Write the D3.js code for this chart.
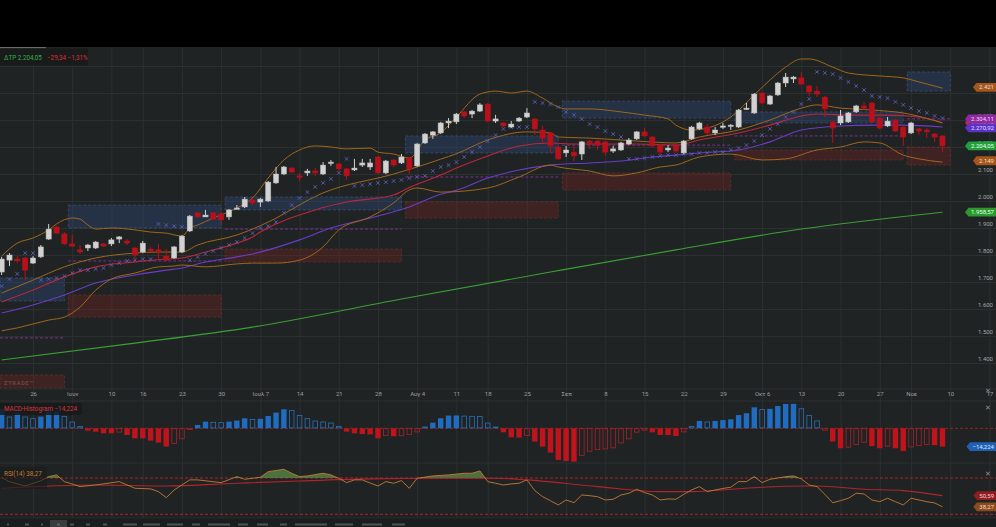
<!DOCTYPE html>
<html><head><meta charset="utf-8">
<script src="https://cdn.jsdelivr.net/npm/d3@7"></script>
<style>html,body{margin:0;padding:0;background:#000;overflow:hidden}svg{display:block;font-family:Roboto,"DejaVu Sans",sans-serif}</style>
</head><body><svg id="c" width="996" height="527"></svg>
<script>
// ---------- DATA ----------
const opens=[1737,1781,1785,1789,1770,1793,1859,1904,1878,1841,1819,1826,1826,1841,1841,1859,1852,1826,1811,1822,1819,1796,1789,1811,1889,1956,1941,1956,1952,1941,1970,1978,2004,1996,2000,2067,2100,2122,2093,2104,2111,2100,2141,2137,2119,2115,2133,2126,2163,2104,2152,2141,2159,2130,2215,2244,2252,2289,2293,2330,2322,2333,2359,2296,2289,2274,2296,2311,2304,2263,2252,2200,2178,2181,2174,2222,2222,2219,2185,2189,2211,2230,2256,2237,2207,2189,2204,2178,2230,2267,2274,2252,2274,2278,2274,2341,2326,2400,2359,2393,2437,2452,2456,2426,2407,2385,2293,2289,2293,2330,2352,2363,2307,2278,2300,2274,2252,2267,2263,2248,2241];
const highs=[1793,1807,1796,1793,1796,1837,1915,1907,1885,1874,1837,1841,1852,1844,1863,1870,1859,1830,1852,1830,1841,1822,1833,1874,1948,1959,1967,1959,1956,1970,1985,2015,2011,2011,2074,2126,2130,2126,2104,2119,2122,2144,2152,2141,2122,2156,2156,2156,2167,2152,2156,2174,2163,2215,2252,2259,2293,2307,2326,2333,2337,2363,2363,2319,2293,2296,2311,2344,2307,2278,2256,2204,2204,2204,2222,2226,2226,2222,2204,2219,2233,2259,2270,2241,2211,2207,2211,2226,2278,2293,2285,2274,2289,2285,2341,2363,2400,2404,2393,2441,2474,2463,2478,2430,2426,2389,2296,2337,2330,2356,2367,2367,2311,2311,2304,2278,2293,2270,2270,2252,2244];
const lows=[1726,1759,1770,1707,1767,1789,1856,1878,1837,1830,1804,1815,1822,1830,1833,1844,1837,1781,1807,1811,1781,1778,1785,1807,1885,1937,1941,1930,1922,1930,1970,1974,1985,1978,1996,2063,2096,2104,2074,2093,2093,2096,2130,2111,2078,2111,2126,2115,2100,2100,2126,2137,2100,2126,2211,2230,2248,2270,2285,2307,2307,2330,2293,2289,2274,2270,2293,2307,2244,2215,2178,2152,2163,2148,2152,2193,2189,2167,2178,2185,2207,2226,2237,2200,2167,2181,2178,2174,2226,2263,2244,2244,2267,2263,2270,2337,2322,2359,2356,2389,2422,2437,2430,2389,2385,2311,2215,2281,2289,2326,2337,2289,2267,2274,2256,2204,2248,2244,2233,2219,2181];
const closes=[1785,1800,1778,1744,1789,1830,1896,1881,1841,1833,1811,1837,1848,1833,1856,1867,1844,1800,1844,1815,1811,1781,1830,1870,1944,1941,1948,1933,1930,1967,1974,2007,1993,2007,2070,2100,2126,2107,2089,2111,2104,2133,2144,2119,2093,2122,2141,2141,2104,2148,2133,2163,2119,2211,2248,2256,2289,2296,2322,2315,2333,2356,2296,2304,2278,2285,2307,2326,2267,2233,2204,2156,2189,2167,2219,2215,2207,2181,2193,2215,2226,2256,2241,2204,2181,2196,2185,2222,2274,2289,2252,2263,2278,2281,2337,2344,2396,2363,2389,2437,2459,2459,2433,2404,2396,2341,2270,2315,2326,2352,2344,2293,2270,2296,2259,2237,2289,2259,2256,2237,2204.05];
const sar=[1685,1711,1730,1807,1807,1707,1711,1715,1722,1733,1744,1744,1748,1752,1763,1770,1778,1781,1785,1785,1915,1911,1907,1904,1781,1793,1804,1815,1826,1837,1848,1863,1881,1900,1907,1922,1956,1985,2011,2033,2052,2067,2082,2104,2156,2056,2059,2063,2067,2070,2074,2078,2085,2089,2093,2111,2126,2133,2144,2163,2181,2200,2222,2244,2267,2274,2274,2274,2367,2363,2359,2348,2330,2319,2304,2285,2274,2259,2248,2237,2156,2156,2159,2163,2167,2170,2170,2174,2174,2178,2178,2181,2181,2189,2196,2207,2222,2244,2267,2285,2311,2330,2359,2378,2478,2474,2470,2456,2441,2426,2411,2389,2385,2381,2367,2356,2344,2333,2326,2315,2307];
const bbUpper=[[0,1796],[2,1844],[4,1863],[6,1893],[7,1915],[9,1937],[10,1933],[11,1911],[12,1896],[14,1900],[17,1893],[19,1885],[21,1881],[23,1870],[24,1900],[25,1911],[27,1937],[30,1974],[32,2011],[34,2085],[36,2152],[38,2189],[40,2204],[42,2200],[44,2193],[47,2196],[48,2181],[50,2174],[52,2159],[54,2226],[56,2252],[58,2311],[61,2396],[63,2407],[65,2400],[67,2407],[69,2381],[71,2348],[72,2341],[75,2341],[79,2330],[82,2318],[85,2304],[86,2281],[88,2263],[90,2270],[93,2311],[96,2393],[98,2448],[100,2496],[102,2526],[103,2526],[106,2496],[108,2474],[112,2463],[115,2456],[117,2441],[120,2418]];
const bbMiddle=[[0,1659],[4,1707],[8,1756],[12,1789],[17,1807],[20,1811],[23,1811],[25,1837],[30,1874],[32,1896],[34,1922],[41,2030],[50,2100],[53,2126],[56,2155],[58,2175],[62,2226],[67,2256],[70,2252],[71,2237],[75,2233],[81,2222],[86,2215],[89,2237],[94,2263],[98,2300],[102,2344],[104,2356],[107,2344],[111,2337],[115,2326],[120,2289]];
const bbLower=[[0,1519],[2,1530],[6,1559],[8,1570],[10,1607],[12,1670],[14,1711],[17,1733],[20,1756],[22,1759],[23,1763],[26,1756],[30,1767],[32,1770],[35,1770],[38,1781],[41,1830],[43,1893],[47,1941],[50,1993],[52,2041],[53,2048],[56,2033],[62,2048],[66,2089],[70,2133],[71,2126],[75,2111],[78,2093],[81,2104],[84,2126],[86,2133],[89,2163],[93,2174],[97,2152],[100,2156],[104,2189],[107,2200],[110,2219],[112,2215],[115,2170],[117,2156],[120,2144]];
const emaRed=[[0,1626],[4,1670],[8,1719],[12,1756],[17,1774],[21,1785],[23,1789],[26,1811],[30,1844],[32,1867],[33,1885],[40,1967],[44,1996],[50,2022],[52,2050],[56,2096],[58,2122],[62,2167],[66,2204],[70,2215],[73,2211],[77,2211],[81,2211],[86,2207],[89,2226],[94,2252],[98,2281],[102,2315],[104,2322],[109,2318],[113,2318],[117,2311],[120,2290]];
const maPurple=[[0,1585],[4,1615],[8,1652],[12,1696],[17,1726],[21,1744],[23,1752],[26,1774],[30,1793],[32,1804],[38,1856],[42,1900],[47,1937],[52,1978],[56,2025],[58,2040],[62,2085],[66,2115],[70,2133],[75,2141],[79,2148],[83,2163],[86,2170],[89,2178],[94,2189],[98,2219],[102,2263],[107,2278],[111,2281],[115,2281],[120,2274]];
const ma200=[[0,1411],[16,1470],[32,1533],[51,1637],[70,1737],[86,1819],[102,1896],[120,1958.57]];
const zoneSpans=[[0,8],[9,28],[29,51],[52,71],[72,93],[94,115],[116,121]];
const blueZones=[[1715,1630],[1985,1900],[2015,1967],[2241,2178],[2370,2307],[2330,2289],[2478,2407]];
const redZones=[[1356,1307],[1652,1570],[1822,1774],[1996,1937],[2104,2041],[2189,2152],[2200,2133]];
const pivots=[1493,1778,1896,2089,2207,2241,2304.11];
const macdHist=[14.8,9.1,11.7,9.1,7.8,9.1,13.0,13.0,9.6,5.2,1.8,-1.8,-2.6,-3.9,-3.9,-3.3,-5.2,-7.8,-7.8,-9.6,-11.1,-14.2,-12.2,-8.5,-1.3,2.6,5.2,5.0,4.7,5.2,6.0,7.8,7.2,7.4,9.6,12.2,14.8,14.2,10.3,7.8,6.0,5.2,4.4,1.8,-2.6,-3.9,-4.4,-4.7,-7.8,-6.0,-6.2,-6.1,-5.2,-3.1,1.3,4.4,7.8,9.9,10.0,9.8,9.6,9.5,4.4,1.3,-3.1,-7.0,-7.2,-6.0,-10.3,-14.2,-18.9,-24.6,-25.4,-25.9,-21.5,-18.1,-16.9,-16.3,-15.5,-11.7,-8.5,-3.3,-1.8,-3.1,-5.2,-5.3,-6.0,-3.1,1.8,5.7,5.2,5.7,6.4,7.0,10.3,11.7,16.3,15.0,15.1,17.3,18.9,19.0,15.5,10.3,6.0,-1.8,-10.3,-15.5,-15.0,-13.0,-11.1,-13.8,-15.5,-14.2,-15.5,-17.6,-14.8,-13.8,-13.0,-13.1,-14.224];
const rsi=[[0,70.4],[1,66.0],[3,61.2],[5,67.0],[6,71.5],[7,73.4],[8,66.0],[9,63.4],[10,60.5],[12,62.3],[15,66.0],[17,58.7],[19,58.0],[20,55.0],[21,48.3],[22,56.8],[24,67.9],[25,67.9],[28,64.9],[30,71.5],[31,68.6],[33,70.8],[34,77.0],[36,79.6],[37,75.2],[38,71.5],[39,72.3],[41,75.2],[42,73.4],[43,69.7],[44,64.9],[45,67.9],[46,67.9],[47,64.5],[48,61.2],[49,66.0],[50,64.2],[51,67.1],[52,58.7],[53,69.7],[55,72.3],[57,73.4],[59,75.2],[60,75.2],[61,77.8],[62,66.0],[63,64.2],[64,62.3],[65,63.5],[66,64.2],[67,67.9],[68,56.1],[69,49.4],[70,45.0],[71,40.3],[72,45.8],[73,42.8],[74,51.3],[75,50.5],[76,49.4],[77,45.8],[78,46.6],[79,51.3],[80,53.2],[81,57.6],[82,54.0],[83,51.3],[84,45.8],[85,46.9],[86,46.6],[87,52.0],[88,56.8],[89,60.5],[90,55.0],[91,56.8],[92,58.5],[93,59.8],[94,66.0],[95,66.0],[96,71.5],[97,64.9],[98,68.6],[99,70.0],[100,71.5],[101,72.3],[102,69.0],[103,62.3],[104,60.5],[105,52.0],[106,42.8],[107,45.0],[108,47.7],[109,53.2],[110,52.4],[111,45.8],[112,43.9],[113,47.7],[114,43.9],[115,40.3],[116,47.7],[117,45.8],[118,43.9],[119,42.5],[120,38.27]];
const rsiMA=[[0,58.7],[12,62.3],[21,61.2],[30,64.2],[38,66.7],[47,69.0],[55,69.7],[63,69.7],[67,67.9],[76,60.5],[84,55.0],[88,55.0],[93,57.6],[97,59.8],[102,61.2],[104,61.2],[110,57.6],[115,56.1],[120,50.59]];
const xTicks=[[4,"26"],[9,"Ιουν"],[14,"10"],[18,"16"],[23,"23"],[28,"30"],[33,"Ιουλ 7"],[38,"14"],[43,"21"],[48,"28"],[53,"Αυγ 4"],[58,"11"],[62,"18"],[67,"25"],[72,"Σεπ"],[77,"8"],[82,"15"],[87,"22"],[92,"29"],[97,"Οκτ 6"],[102,"13"],[107,"20"],[112,"27"],[116,"Νοε"],[121,"10"],[126,"17"]];
const priceTicks=[1400,1500,1600,1700,1800,1900,2000,2100,2200,2300];
const gridPrices=[1400,1500,1600,1700,1800,1900,2000,2100,2200,2300,2400,2500];
const headerName="ΔΤΡ", headerChange=-29.34, headerPct=-1.31;
const upperTag=2421, lowerTag=2149;

// ---------- SETUP ----------
const W=996,H=527;
const loc=d3.formatLocale({decimal:",",thousands:".",grouping:[3],currency:["","€"]});
const f0=loc.format(",.0f"), f2=loc.format(",.2f"), f3=loc.format(",.3f");
const svg=d3.select("#c");
const x=d3.scaleLinear().domain([4,126]).range([33,989.5]);
const y=d3.scaleLinear().domain([1400,2500]).range([363,66]);
const yM=d3.scaleLinear().domain([0,-14.224]).range([428.3,446.6]);
const yR=d3.scaleLinear().domain([30,70]).range([514.3,478]);
const GRID="#2c3030", BG="#202323";

svg.append("rect").attr("width",W).attr("height",H).attr("fill","#000");
svg.append("rect").attr("y",47).attr("width",W).attr("height",H-47).attr("fill",BG);
svg.append("rect").attr("x",0).attr("y",47).attr("width",46).attr("height",1.2).attr("fill","#6a6d6d");

const defs=svg.append("defs");
defs.append("clipPath").attr("id","mainClip").append("rect").attr("x",0).attr("y",48).attr("width",W).attr("height",341);
defs.append("clipPath").attr("id","rsiUp").append("rect").attr("x",0).attr("y",465).attr("width",W).attr("height",yR(70)-465);

// vertical gridlines
svg.append("g").attr("transform","translate(0,518)")
  .call(d3.axisBottom(x).tickValues(xTicks.map(d=>d[0])).tickSize(-(518-48)).tickFormat(""))
  .call(g=>g.select(".domain").remove())
  .call(g=>g.selectAll("line").attr("stroke",GRID).attr("stroke-width",1));

// horizontal price gridlines
const main=svg.append("g").attr("clip-path","url(#mainClip)");
main.append("g").attr("transform",`translate(${W},0)`)
  .call(d3.axisLeft(y).tickValues(gridPrices).tickSize(W).tickFormat(""))
  .call(g=>g.select(".domain").remove())
  .call(g=>g.selectAll("line").attr("stroke",GRID));

// panel separators
[389,401,463,518].forEach(v=>svg.append("line").attr("x1",0).attr("x2",W).attr("y1",v).attr("y2",v).attr("stroke",GRID));

// zones
const zx0=s=>Math.max(0,x(s[0]-0.5)), zx1=s=>x(s[1]);
main.selectAll(".bz").data(blueZones).join("rect")
  .attr("x",(d,i)=>zx0(zoneSpans[i])).attr("width",(d,i)=>zx1(zoneSpans[i])-zx0(zoneSpans[i]))
  .attr("y",d=>y(d[0])).attr("height",d=>y(d[1])-y(d[0]))
  .attr("fill","rgba(50,80,140,0.33)").attr("stroke","rgba(80,105,165,0.55)").attr("stroke-dasharray","3,2").attr("stroke-width",0.8);
main.selectAll(".rz").data(redZones).join("rect")
  .attr("x",(d,i)=>zx0(zoneSpans[i])).attr("width",(d,i)=>zx1(zoneSpans[i])-zx0(zoneSpans[i]))
  .attr("y",d=>y(d[0])).attr("height",d=>y(d[1])-y(d[0]))
  .attr("fill","rgba(115,38,38,0.38)").attr("stroke","rgba(140,55,55,0.55)").attr("stroke-dasharray","3,2").attr("stroke-width",0.8);
main.selectAll(".pv").data(pivots).join("line")
  .attr("x1",(d,i)=>zx0(zoneSpans[i])).attr("x2",(d,i)=>zx1(zoneSpans[i]))
  .attr("y1",d=>y(d)).attr("y2",d=>y(d))
  .attr("stroke","#7a3090").attr("stroke-dasharray","3,2").attr("stroke-width",1);
main.append("text").attr("x",4).attr("y",385).attr("font-size",5.5).attr("font-weight","bold").attr("letter-spacing",0.8).attr("fill","#6e4646").text("ZTRADE™");

// lines
const ln=d3.line().x(d=>x(d[0])).y(d=>y(d[1])).curve(d3.curveMonotoneX);
const addLine=(data,col,w)=>main.append("path").datum(data).attr("d",ln).attr("fill","none").attr("stroke",col).attr("stroke-width",w);
addLine(ma200,"#3aa033",1.1);
addLine(maPurple,"#6a3cc8",1.1);
addLine(emaRed,"#b8283c",1.1);
addLine(bbLower,"#a0661e",1);
addLine(bbMiddle,"#a0661e",1);
addLine(bbUpper,"#a0661e",1);

// SAR
main.append("path").attr("d",sar.map((v,i)=>{const cx=x(i),cy=y(v);return `M${cx-1.8},${cy-1.8}L${cx+1.8},${cy+1.8}M${cx+1.8},${cy-1.8}L${cx-1.8},${cy+1.8}`;}).join(""))
  .attr("stroke","#5a5cb8").attr("stroke-width",0.9).attr("fill","none");

// candles
const idx=d3.range(closes.length);
const cg=main.selectAll(".cd").data(idx).join("g");
const ccol=i=>closes[i]>=opens[i]?"#d2d2d2":"#b8111b";
cg.append("line").attr("x1",i=>x(i)).attr("x2",i=>x(i)).attr("y1",i=>y(highs[i])).attr("y2",i=>y(lows[i])).attr("stroke",ccol).attr("stroke-width",1);
cg.append("rect").attr("x",i=>x(i)-2.6).attr("width",5.2)
  .attr("y",i=>y(Math.max(opens[i],closes[i])))
  .attr("height",i=>Math.max(1.4,Math.abs(y(opens[i])-y(closes[i]))))
  .attr("fill",ccol).attr("stroke",i=>closes[i]>=opens[i]?"#b8b8b8":"#b8111b").attr("stroke-width",0.5);

// price axis labels
svg.append("g").attr("transform",`translate(${W},0)`)
  .call(d3.axisLeft(y).tickValues(priceTicks).tickSize(0).tickPadding(3).tickFormat(f0))
  .call(g=>g.select(".domain").remove())
  .call(g=>g.selectAll("text").attr("dy",-2.2).attr("font-size",6).attr("fill","#a3a6a6").attr("font-family","Roboto,sans-serif"));

// x axis labels
const xl=new Map(xTicks);
svg.append("g").attr("transform","translate(0,392)")
  .call(d3.axisBottom(x).tickValues(xTicks.map(d=>d[0])).tickSize(0).tickPadding(0).tickFormat(i=>xl.get(i)))
  .call(g=>g.select(".domain").remove())
  .call(g=>g.selectAll("text").attr("font-size",6).attr("fill","#9c9f9f").attr("font-family","Roboto,sans-serif"));

// tags
const tags=svg.append("g");
function tag(val,text,bg,fg,sc){
  const yy=(sc||y)(val);
  const t=tags.append("text").attr("x",994).attr("y",yy).attr("dy","0.36em").attr("text-anchor","end").attr("font-size",6).attr("fill",fg).text(text);
  const w=t.node().getComputedTextLength();
  const x0=994-w-2.5;
  tags.insert("path",()=>t.node()).attr("d",`M${x0-3.5},${yy}L${x0},${yy-4.4}H${W}V${yy+4.4}H${x0}Z`).attr("fill",bg);
}
const lastUpper=bbUpper[bbUpper.length-1][1];
tag(upperTag,f0(upperTag),"#a4561c","#f3dcc6");
tag(emaRed[emaRed.length-1][1],f2(2289.24),"#c42a3c","#f7d7da");
tag(pivots[pivots.length-1],f2(pivots[pivots.length-1]),"#8e2aa0","#f0d8f4");
tag(2270.92,f2(2270.92),"#5a34c8","#e2daf8");
tag(closes[closes.length-1],f2(closes[closes.length-1]),"#22a03c","#eaffee");
tag(lowerTag,f0(lowerTag),"#a4561c","#f3dcc6");
tag(ma200[ma200.length-1][1],f2(ma200[ma200.length-1][1]),"#2a9a2e","#eaffea");

// header
svg.append("rect").attr("x",0).attr("y",48.5).attr("width",88).attr("height",17).attr("fill","#191b1b");
svg.append("text").attr("x",4).attr("y",60.3).attr("font-size",6.3).attr("fill","#2fae4e").text(`${headerName} ${f2(closes[closes.length-1])}`);
svg.append("text").attr("x",47).attr("y",60.3).attr("font-size",6.3).attr("fill","#d8303c").text(`${f2(headerChange)} ${f2(headerPct)}%`);

// ---------- MACD ----------
const mg=svg.append("g");
mg.append("line").attr("x1",0).attr("x2",W).attr("y1",yM(0)).attr("y2",yM(0)).attr("stroke","#b82228").attr("stroke-dasharray","3,2").attr("stroke-width",0.8);
mg.selectAll(".mb").data(macdHist).join("rect")
  .each(function(v,i){
    const filled=i===0||Math.abs(v)>=Math.abs(macdHist[i-1]);
    const col=v>=0?"#1f6cc0":"#c0141d";
    const y0=yM(Math.max(v,0)), y1=yM(Math.min(v,0));
    const s=d3.select(this);
    if(filled){s.attr("x",x(i)-2.7).attr("width",5.4).attr("y",y0).attr("height",Math.max(0.8,y1-y0)).attr("fill",col);}
    else{s.attr("x",x(i)-2.3).attr("width",4.6).attr("y",y0+0.4).attr("height",Math.max(0.6,y1-y0-0.8)).attr("fill","none").attr("stroke",v>=0?"#2a70b8":"#a8222a").attr("stroke-width",0.8);}
  });
svg.append("rect").attr("x",0).attr("y",403).attr("width",82).attr("height",12).attr("fill","rgba(24,26,26,0.85)");
svg.append("text").attr("x",4).attr("y",411.3).attr("font-size",6.3).attr("fill","#d8343e").text(`MACD-Histogram ${f3(macdHist[macdHist.length-1])}`);
tag(macdHist[macdHist.length-1],f3(macdHist[macdHist.length-1]),"#2060b4","#dde9fb",yM);

// ---------- RSI ----------
const rg=svg.append("g");
[70,30].forEach(v=>rg.append("line").attr("x1",0).attr("x2",W).attr("y1",yR(v)).attr("y2",yR(v)).attr("stroke","#c2222a").attr("stroke-dasharray","3,2").attr("stroke-width",0.9));
const ar=d3.area().x(d=>x(d[0])).y0(yR(70)).y1(d=>yR(d[1]));
rg.append("path").datum(rsi).attr("d",ar).attr("clip-path","url(#rsiUp)").attr("fill","rgba(88,140,72,0.75)");
const lr=d3.line().x(d=>x(d[0])).y(d=>yR(d[1]));
rg.append("path").datum(rsiMA).attr("d",lr.curve(d3.curveMonotoneX)).attr("fill","none").attr("stroke","#b0242c").attr("stroke-width",1.1);
rg.append("path").datum(rsi).attr("d",d3.line().x(d=>x(d[0])).y(d=>yR(d[1]))).attr("fill","none").attr("stroke","#c47a34").attr("stroke-width",0.9);
svg.append("rect").attr("x",0).attr("y",467).attr("width",47).attr("height",22).attr("fill","rgba(24,26,26,0.6)");
svg.append("text").attr("x",4).attr("y",476.3).attr("font-size",6.3).attr("fill","#c47a34").text(`RSI(14) ${f2(rsi[rsi.length-1][1])}`);
tag(rsiMA[rsiMA.length-1][1],f2(rsiMA[rsiMA.length-1][1]),"#8e1c20","#f4d4d4",yR);
tag(rsi[rsi.length-1][1],f2(rsi[rsi.length-1][1]),"#8c4a1e","#f4dcc8",yR);

// close icons
[407,473].forEach(v=>svg.append("text").attr("x",988).attr("y",v+2.5).attr("text-anchor","middle").attr("font-size",7).attr("fill","#8a8d8d").text("✕"));
svg.append("text").attr("x",988).attr("y",393).attr("text-anchor","middle").attr("font-size",7).attr("fill","#8a8d8d").text("✕");

// bottom toolbar
svg.append("rect").attr("x",0).attr("y",518.5).attr("width",W).attr("height",8.5).attr("fill","#1b1e1e");
svg.append("rect").attr("x",50).attr("y",520).attr("width",17).attr("height",7).attr("fill","#3a3d3d");
const tb=[[7,2],[25,4],[41,2],[57,3],[70,4],[86,4],[103,4],[123,14],[143,17],[167,16],[192,8],[208,22],[238,10],[257,11],[280,7],[295,32],[335,18],[362,20],[392,13]];
tb.forEach(d=>svg.append("rect").attr("x",d[0]).attr("y",523.5).attr("width",d[1]).attr("height",2).attr("fill","#7d8080").attr("opacity",0.55));
</script></body></html>
